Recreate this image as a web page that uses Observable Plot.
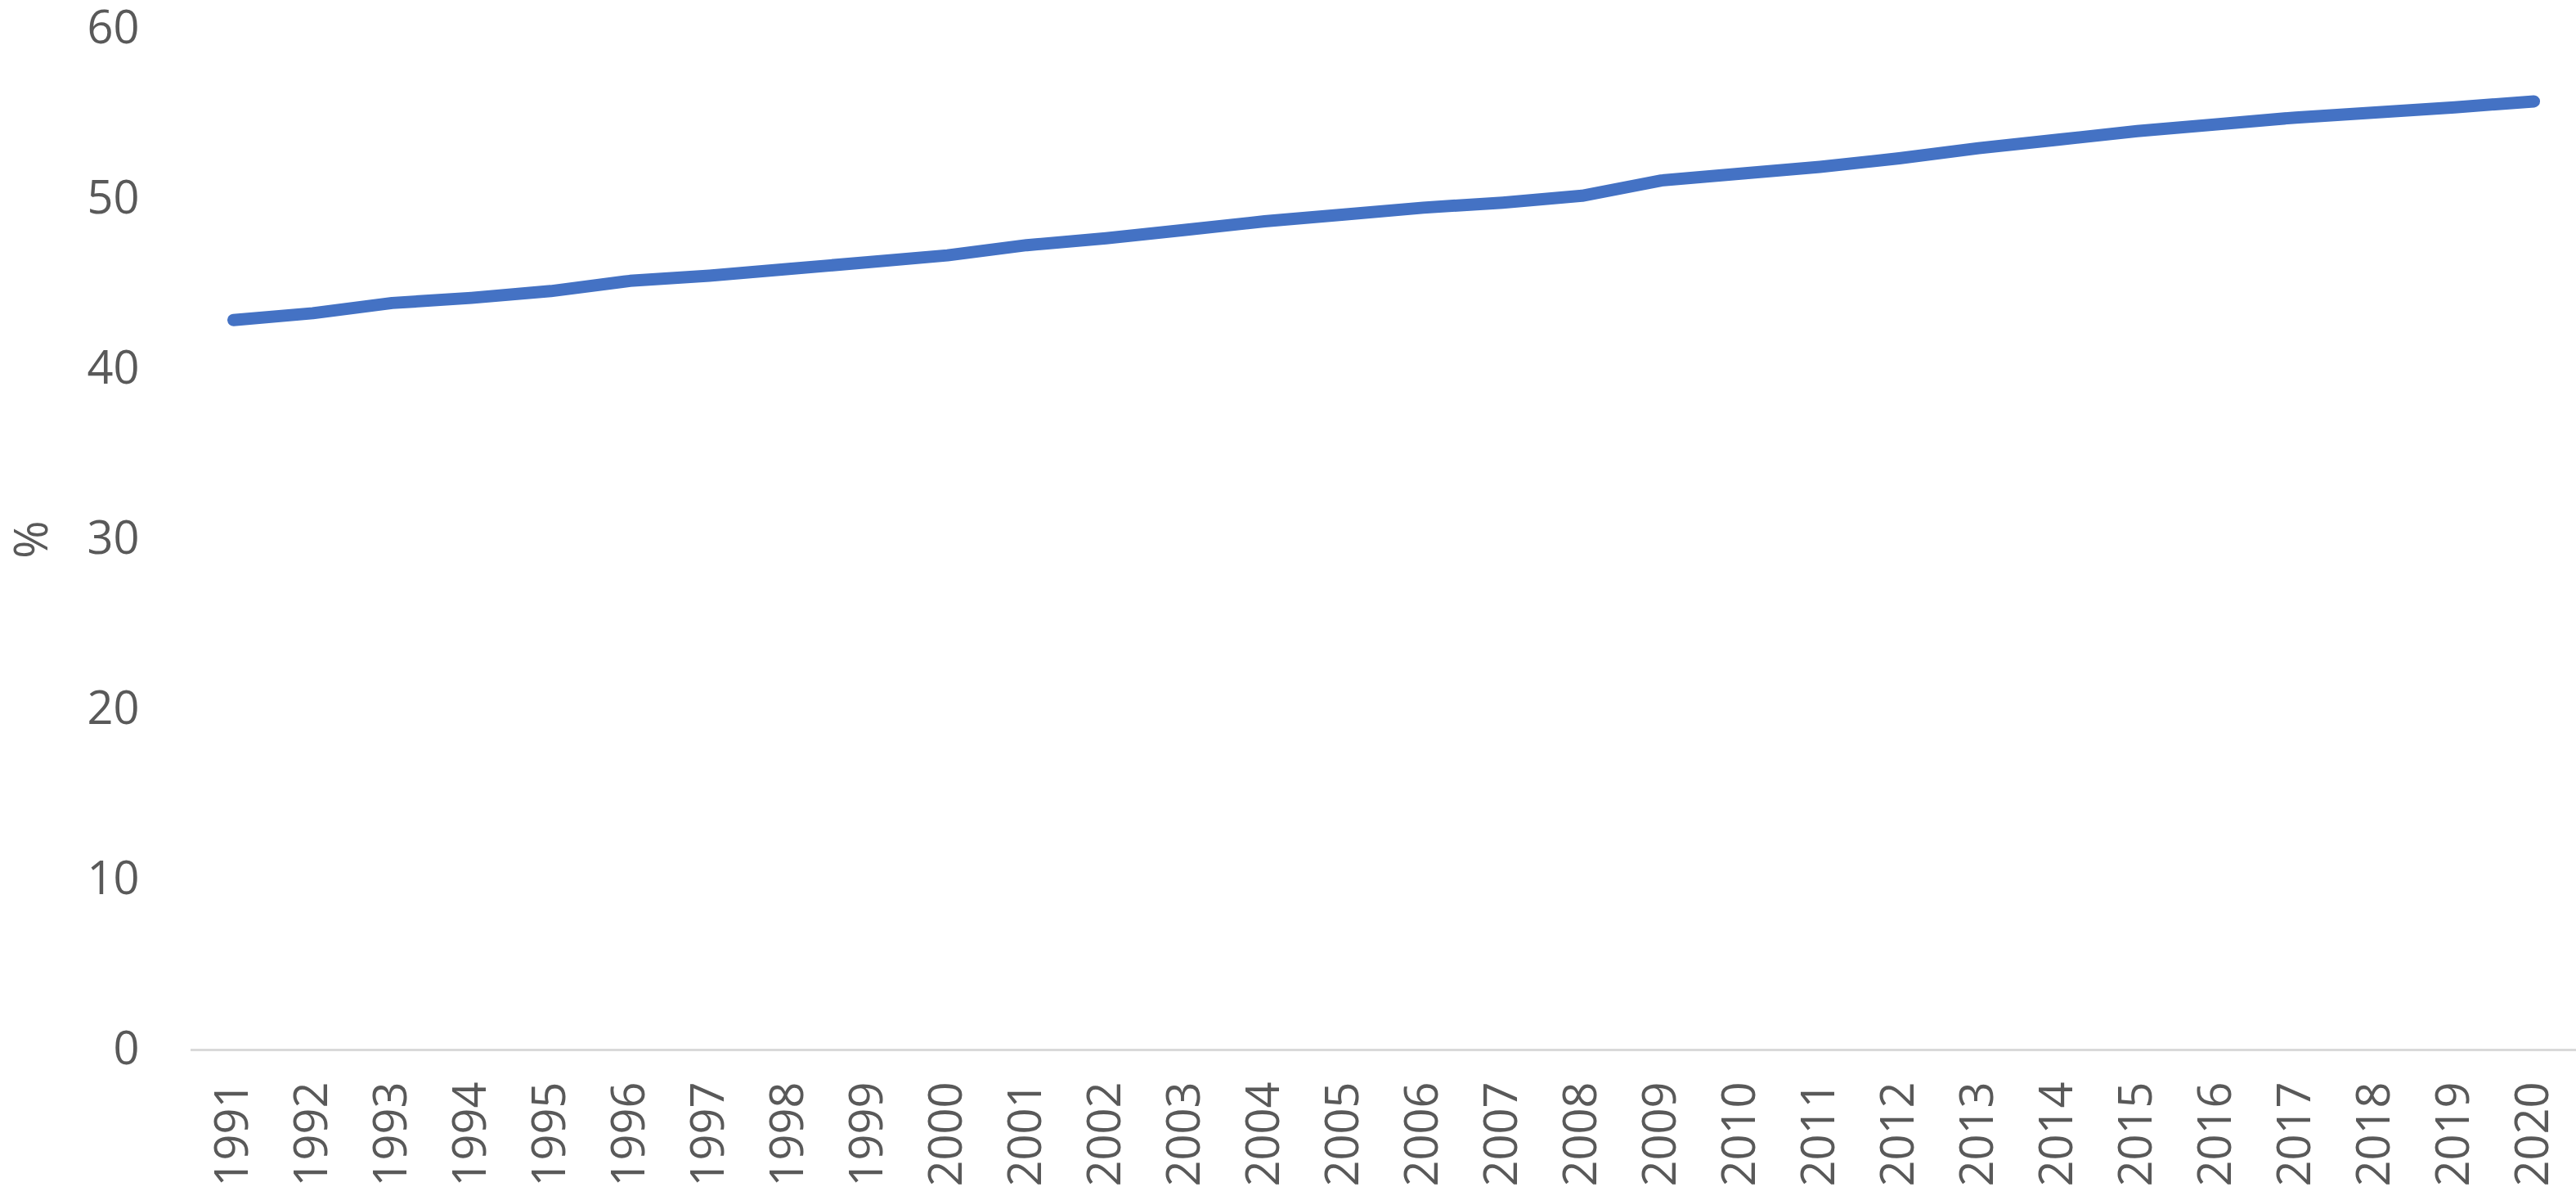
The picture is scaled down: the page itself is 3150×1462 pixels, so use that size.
<!DOCTYPE html>
<html>
<head>
<meta charset="utf-8">
<script src="https://cdn.jsdelivr.net/npm/d3@7"></script>
<script src="https://cdn.jsdelivr.net/npm/@observablehq/plot@0.6"></script>
<style>
  html, body { margin: 0; padding: 0; background: #ffffff; }
  #chart svg { display: block; }
</style>
</head>
<body>
<div id="chart"></div>
<script>
const years = ["1991","1992","1993","1994","1995","1996","1997","1998","1999","2000",
               "2001","2002","2003","2004","2005","2006","2007","2008","2009","2010",
               "2011","2012","2013","2014","2015","2016","2017","2018","2019","2020"];
const values = [42.9, 43.3, 43.9, 44.2, 44.6, 45.2, 45.5, 45.9, 46.3, 46.7,
                47.3, 47.7, 48.2, 48.7, 49.1, 49.5, 49.8, 50.2, 51.1, 51.5,
                51.9, 52.4, 53.0, 53.5, 54.0, 54.4, 54.8, 55.1, 55.4, 55.75];
const yTicks = [0, 10, 20, 30, 40, 50, 60];
const yLabel = "%";

const data = years.map((year, i) => ({year, value: values[i]}));

const chart = Plot.plot({
  width: 3150,
  height: 1462,
  marginLeft: 233,
  marginRight: 0,
  marginTop: 35,
  marginBottom: 179,
  style: {
    fontFamily: "'Open Sans', 'Liberation Sans', sans-serif",
    fontSize: "56px",
    color: "#595959",
    background: "#ffffff"
  },
  x: {
    type: "point",
    domain: years,
    padding: 0.5,
    label: null
  },
  y: {
    domain: [0, 60],
    label: null
  },
  marks: [
    Plot.ruleY([0], {stroke: "#d9d9d9", strokeWidth: 3}),
    Plot.axisY({
      ticks: yTicks,
      tickSize: 0,
      tickPadding: 63,
      label: yLabel,
      labelAnchor: "center",
      labelArrow: "none",
      labelOffset: 215
    }),
    Plot.axisX({
      tickSize: 0,
      tickPadding: 39,
      tickRotate: -90,
      label: null
    }),
    Plot.lineY(data, {
      x: "year",
      y: "value",
      stroke: "#4472C4",
      strokeWidth: 15,
      strokeLinecap: "round",
      strokeLinejoin: "round"
    })
  ]
});

document.getElementById("chart").appendChild(chart);
</script>
</body>
</html>
